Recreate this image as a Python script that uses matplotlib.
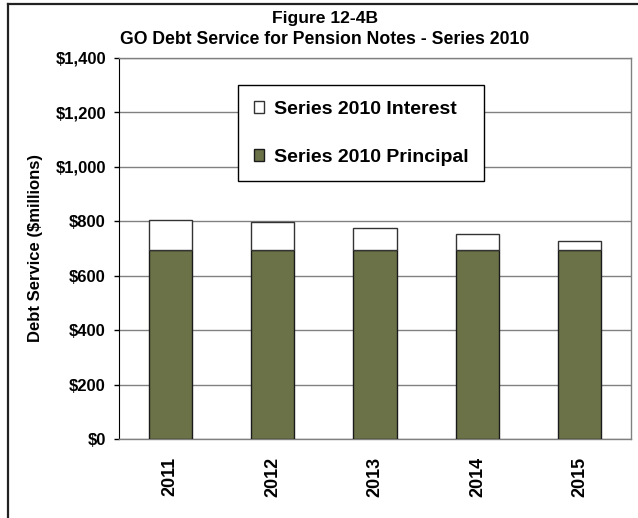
import matplotlib
matplotlib.use("Agg")
import matplotlib.pyplot as plt
from matplotlib.lines import Line2D
from matplotlib.ticker import FuncFormatter

plt.rcParams['font.family'] = ['Liberation Sans', 'DejaVu Sans']
plt.rcParams['font.weight'] = 'bold'

years = ['2011', '2012', '2013', '2014', '2015']
principal = [695, 695, 695, 695, 695]
interest = [111, 101, 82, 57, 32]

OLIVE = '#6b7247'
GRID = '#808080'

fig = plt.figure(figsize=(6.38, 5.18), dpi=100)
ax = fig.add_axes([119 / 638, 1 - 439 / 518, 512 / 638, 381 / 518])

x = list(range(len(years)))
ax.bar(x, principal, width=0.42, color=OLIVE, edgecolor='#1a1a1a',
       linewidth=1, zorder=3, label='Series 2010 Principal')
ax.bar(x, interest, width=0.42, bottom=principal, color='white',
       edgecolor='#333333', linewidth=1, zorder=3, label='Series 2010 Interest')

ax.set_xlim(-0.5, len(years) - 0.5)
ax.set_ylim(0, 1400)
ax.set_yticks(range(0, 1401, 200))
ax.yaxis.set_major_formatter(FuncFormatter(lambda v, p: f'${v:,.0f}'))
ax.grid(axis='y', color=GRID, linewidth=1, zorder=0)

ax.set_xticks(x)
ax.set_xticklabels(years, rotation=90, fontsize=13, fontweight='bold')
ax.tick_params(axis='x', length=0, pad=13)
ax.tick_params(axis='y', length=3.6, width=1, color='black', pad=5.8,
               labelsize=12)
for lbl in ax.get_yticklabels():
    lbl.set_fontweight('bold')

ax.spines['left'].set_color('black')
for side in ['top', 'right', 'bottom']:
    ax.spines[side].set_color(GRID)
    ax.spines[side].set_linewidth(1)

ax.set_ylabel('Debt Service ($millions)', fontsize=12, fontweight='bold')
ax.yaxis.set_label_coords(-(119 - 43) / 512, 0.5)

handles, labels = ax.get_legend_handles_labels()
leg = ax.legend(handles[::-1], labels[::-1], loc='upper left',
                bbox_to_anchor=((238 - 119) / 512, (439 - 85) / 381),
                borderaxespad=0, fancybox=False, framealpha=1,
                edgecolor='black', prop={'size': 14, 'weight': 'bold'},
                handlelength=0.55, handleheight=0.55, handletextpad=0.5,
                labelspacing=1.6, borderpad=0.8)
leg.get_frame().set_linewidth(1)

fig.text(325 / 638, 1 - 19 / 518, 'Figure 12-4B', ha='center', va='center',
         fontsize=12.6, fontweight='bold')
fig.text(325 / 638, 1 - 40 / 518,
         'GO Debt Service for Pension Notes - Series 2010',
         ha='center', va='center', fontsize=12.7, fontweight='bold')

# outer frame (left and top edges)
fig.add_artist(Line2D([7.5 / 638, 7.5 / 638], [0, 1 - 3.5 / 518],
                      transform=fig.transFigure, color='#222222', lw=1.6))
fig.add_artist(Line2D([7.5 / 638, 1], [1 - 3.5 / 518, 1 - 3.5 / 518],
                      transform=fig.transFigure, color='#222222', lw=1.6))

fig.savefig('out.png', dpi=100, facecolor='white')
